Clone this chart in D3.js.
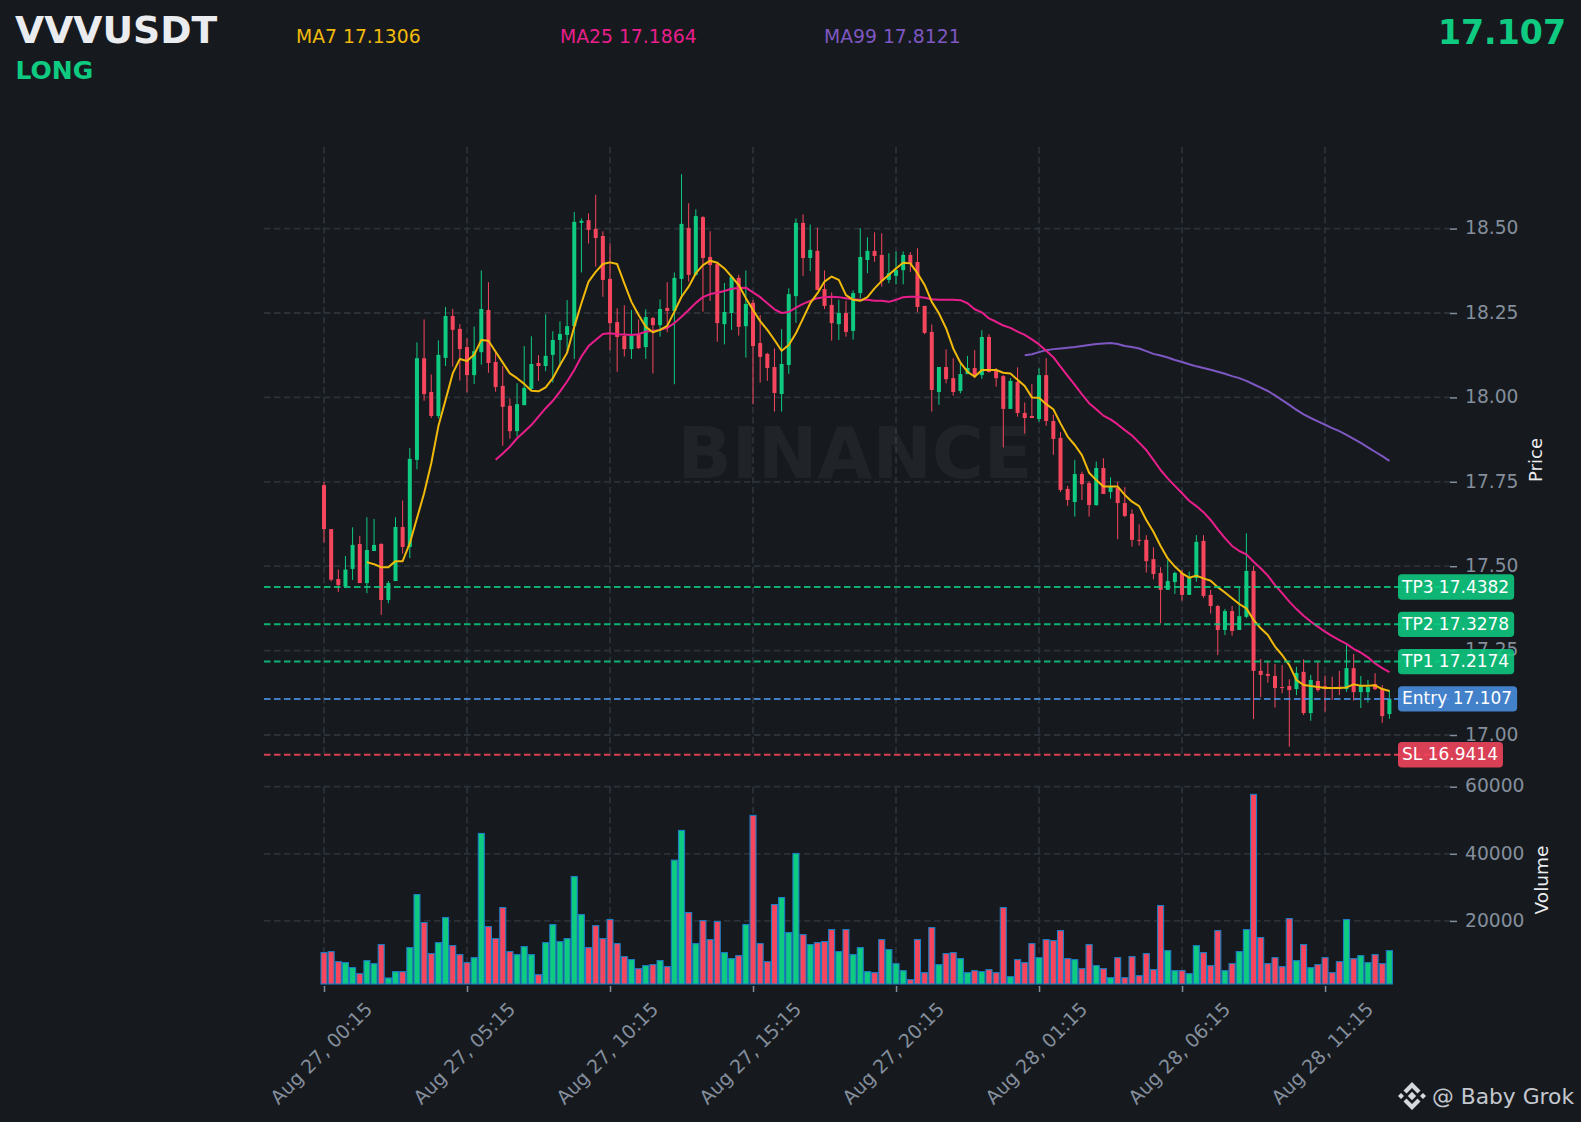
<!DOCTYPE html>
<html><head><meta charset="utf-8">
<script src="https://cdn.jsdelivr.net/npm/d3@7/dist/d3.min.js"></script>
<style>html,body{margin:0;padding:0;background:#161a1e}svg{display:block}text{font-family:"DejaVu Sans",sans-serif}</style>
</head><body><svg id="c" width="1581" height="1122"></svg>
<script>
const opens=[17.74,17.61,17.462,17.44,17.492,17.566,17.45,17.545,17.566,17.40,17.456,17.616,17.557,17.815,18.116,18.016,17.945,18.117,18.241,18.203,18.149,18.066,18.134,18.259,18.105,18.034,17.975,17.90,17.977,18.025,18.102,18.093,18.126,18.17,18.185,18.211,18.517,18.525,18.499,18.478,18.351,18.223,18.182,18.143,18.185,18.149,18.235,18.214,18.265,18.256,18.351,18.502,18.363,18.534,18.416,18.395,18.217,18.25,18.354,18.211,18.28,18.161,18.129,18.09,18.01,18.096,18.3,18.517,18.413,18.434,18.321,18.274,18.217,18.25,18.197,18.309,18.407,18.434,18.422,18.348,18.36,18.377,18.422,18.401,18.271,18.194,18.016,18.09,18.057,18.019,18.069,18.087,18.066,18.179,18.081,18.063,17.966,18.046,17.954,17.945,17.936,18.066,17.93,17.88,17.729,17.69,17.773,17.746,17.681,17.791,17.72,17.732,17.687,17.655,17.578,17.578,17.521,17.48,17.43,17.453,17.48,17.415,17.465,17.575,17.415,17.382,17.311,17.367,17.311,17.35,17.486,17.19,17.181,17.175,17.142,17.145,17.136,17.187,17.065,17.16,17.145,17.142,17.143,17.136,17.198,17.127,17.127,17.151,17.137,17.062];
const highs=[17.75,17.61,17.49,17.53,17.615,17.59,17.645,17.64,17.568,17.456,17.645,17.695,17.85,18.163,18.231,18.068,18.169,18.268,18.262,18.217,18.175,18.21,18.376,18.341,18.135,18.093,17.997,18.042,18.152,18.181,18.125,18.246,18.196,18.225,18.288,18.549,18.53,18.545,18.6,18.492,18.456,18.264,18.273,18.259,18.231,18.261,18.238,18.29,18.341,18.37,18.661,18.575,18.557,18.537,18.492,18.395,18.339,18.363,18.363,18.376,18.289,18.244,18.132,18.145,18.202,18.323,18.53,18.542,18.512,18.503,18.376,18.311,18.289,18.286,18.317,18.501,18.474,18.489,18.486,18.427,18.432,18.432,18.43,18.442,18.271,18.216,18.09,18.142,18.116,18.099,18.123,18.14,18.199,18.187,18.087,18.066,18.057,18.089,17.985,18.04,18.086,18.116,17.949,17.897,17.738,17.815,17.78,17.752,17.81,17.82,17.763,17.75,17.734,17.668,17.624,17.592,17.556,17.497,17.518,17.484,17.489,17.484,17.592,17.592,17.43,17.385,17.373,17.382,17.439,17.597,17.501,17.225,17.217,17.21,17.207,17.165,17.202,17.224,17.178,17.217,17.176,17.173,17.19,17.267,17.24,17.175,17.163,17.183,17.148,17.133];
const lows=[17.57,17.455,17.424,17.435,17.459,17.45,17.42,17.545,17.356,17.39,17.456,17.537,17.524,17.787,17.99,17.939,17.938,18.093,18.091,18.05,18.015,18.04,18.097,18.073,18.017,17.857,17.878,17.884,17.977,18.022,18.049,18.078,18.044,18.091,18.132,18.114,18.37,18.456,18.387,18.298,18.14,18.076,18.121,18.114,18.143,18.114,18.071,18.18,18.193,18.039,18.293,18.343,18.36,18.254,18.286,18.165,18.157,18.2,18.183,18.118,17.98,18.044,18.049,17.958,17.958,18.07,18.221,18.36,18.374,18.318,18.262,18.168,18.17,18.18,18.171,18.293,18.368,18.402,18.328,18.338,18.335,18.335,18.372,18.252,18.187,17.958,17.978,18.042,18.005,18.012,18.069,18.057,18.055,18.074,18.032,17.852,17.966,17.943,17.893,17.939,17.928,17.916,17.83,17.72,17.679,17.647,17.696,17.647,17.679,17.714,17.7,17.58,17.645,17.558,17.561,17.481,17.461,17.331,17.43,17.418,17.398,17.415,17.454,17.406,17.36,17.237,17.296,17.294,17.311,17.346,17.047,17.112,17.155,17.081,17.124,16.965,17.118,17.059,17.042,17.128,17.069,17.104,17.118,17.128,17.102,17.08,17.096,17.133,17.036,17.048];
const closes=[17.61,17.46,17.444,17.49,17.563,17.45,17.548,17.563,17.40,17.45,17.616,17.557,17.818,18.116,18.01,17.945,18.126,18.241,18.20,18.143,18.066,18.137,18.262,18.102,18.031,17.972,17.90,17.98,18.028,18.099,18.093,18.123,18.17,18.188,18.211,18.52,18.523,18.496,18.472,18.348,18.22,18.179,18.143,18.182,18.146,18.238,18.214,18.262,18.256,18.354,18.514,18.363,18.537,18.413,18.392,18.22,18.253,18.357,18.209,18.277,18.152,18.12,18.087,18.013,18.099,18.306,18.517,18.413,18.437,18.318,18.271,18.22,18.25,18.194,18.309,18.416,18.434,18.419,18.345,18.368,18.377,18.422,18.395,18.268,18.191,18.022,18.09,18.054,18.016,18.069,18.087,18.066,18.179,18.075,18.057,17.966,18.049,17.954,17.939,17.939,18.066,17.93,17.877,17.726,17.696,17.773,17.743,17.681,17.791,17.714,17.736,17.687,17.649,17.578,17.575,17.515,17.477,17.43,17.456,17.48,17.415,17.465,17.572,17.412,17.382,17.311,17.367,17.308,17.352,17.486,17.19,17.178,17.175,17.139,17.139,17.133,17.184,17.065,17.163,17.133,17.136,17.136,17.136,17.198,17.127,17.148,17.142,17.136,17.056,17.107];
const volumes=[10550,10850,7860,7560,6070,4280,8160,7260,12940,2990,4880,4880,12040,27860,19500,10250,13530,21000,12640,9950,7560,9050,46070,18300,14730,23980,10850,9950,12340,9950,3980,13530,18900,13830,14730,33230,21890,12040,18600,14730,20400,13230,9350,8460,5770,6670,6970,8160,6370,38110,46960,22490,13230,20100,14430,19800,10550,8760,9650,18900,51440,13230,7860,24880,26970,16520,40100,15920,12940,13530,13830,17410,10850,17410,9950,12040,4880,4580,14430,11440,7260,5170,2490,14430,4580,18010,6970,10250,10550,8760,4580,5170,4880,5470,4580,23980,3380,8460,7560,13230,9050,14430,14130,17110,8760,8460,5770,12940,6670,5770,3090,9050,3090,9350,3680,10250,5470,24580,11140,5170,5170,4280,12640,10550,6670,17110,5170,7260,10850,17410,57710,15030,7260,9050,6370,20700,8160,12940,6070,6970,9050,4580,7860,20400,8760,9650,7560,9950,7260,11140];
const ma7=[17.512,17.506,17.497,17.497,17.515,17.515,17.568,17.642,17.716,17.805,17.915,17.992,18.071,18.114,18.108,18.126,18.17,18.168,18.135,18.103,18.071,18.057,18.04,18.02,18.018,18.03,18.057,18.096,18.132,18.209,18.279,18.343,18.372,18.395,18.4,18.395,18.338,18.283,18.244,18.209,18.193,18.2,18.212,18.254,18.298,18.328,18.368,18.392,18.405,18.399,18.382,18.358,18.333,18.294,18.259,18.226,18.2,18.17,18.138,18.155,18.19,18.234,18.279,18.308,18.343,18.358,18.348,18.303,18.289,18.286,18.297,18.323,18.345,18.363,18.382,18.399,18.397,18.368,18.333,18.283,18.249,18.205,18.145,18.103,18.076,18.061,18.081,18.081,18.081,18.073,18.071,18.052,18.034,18.0,17.999,17.98,17.965,17.923,17.884,17.859,17.829,17.777,17.755,17.736,17.736,17.736,17.711,17.691,17.678,17.637,17.602,17.56,17.523,17.499,17.479,17.466,17.472,17.464,17.457,17.438,17.422,17.405,17.388,17.375,17.341,17.316,17.296,17.262,17.237,17.207,17.163,17.148,17.145,17.142,17.139,17.139,17.139,17.141,17.15,17.146,17.146,17.147,17.136,17.1306];
const ma25=[17.815,17.834,17.854,17.879,17.898,17.918,17.943,17.968,17.99,18.017,18.047,18.081,18.121,18.152,18.17,18.188,18.19,18.187,18.186,18.185,18.187,18.195,18.197,18.2,18.206,18.22,18.239,18.259,18.28,18.297,18.306,18.31,18.315,18.322,18.324,18.325,18.311,18.297,18.279,18.261,18.25,18.253,18.266,18.277,18.286,18.294,18.297,18.298,18.297,18.294,18.291,18.289,18.289,18.286,18.286,18.283,18.289,18.297,18.298,18.298,18.295,18.291,18.289,18.289,18.289,18.288,18.279,18.261,18.252,18.234,18.224,18.213,18.206,18.195,18.185,18.172,18.157,18.138,18.119,18.091,18.064,18.037,18.009,17.983,17.965,17.946,17.935,17.92,17.903,17.887,17.866,17.844,17.815,17.785,17.76,17.738,17.716,17.694,17.678,17.66,17.637,17.609,17.583,17.56,17.545,17.535,17.513,17.494,17.472,17.444,17.42,17.395,17.373,17.353,17.336,17.321,17.306,17.293,17.281,17.27,17.255,17.244,17.23,17.212,17.198,17.1864];
const ma99=[18.125,18.128,18.134,18.14,18.143,18.145,18.147,18.149,18.152,18.155,18.158,18.16,18.161,18.158,18.152,18.149,18.145,18.137,18.129,18.124,18.118,18.111,18.105,18.098,18.092,18.087,18.082,18.076,18.07,18.063,18.057,18.049,18.039,18.029,18.019,18.006,17.992,17.978,17.963,17.95,17.939,17.929,17.919,17.909,17.9,17.889,17.877,17.865,17.852,17.839,17.826,17.8121];
const priceTicks=[17.00,17.25,17.50,17.75,18.00,18.25,18.50];
const volumeTicks=[20000,40000,60000];
const timeTickIndex=[0,20,40,60,80,100,120,140];
const timeTickLabels=["Aug 27, 00:15","Aug 27, 05:15","Aug 27, 10:15","Aug 27, 15:15","Aug 27, 20:15","Aug 28, 01:15","Aug 28, 06:15","Aug 28, 11:15"];
const levelNames=["TP3 17.4382","TP2 17.3278","TP1 17.2174","Entry 17.107","SL 16.9414"];
const levelValues=[17.4382,17.3278,17.2174,17.107,16.9414];
const levelColors=["#0ecb81","#0ecb81","#0ecb81","#4a90e2","#f6465d"];
const maLegend=[["MA7 17.1306","#f0b90b"],["MA25 17.1864","#e91e8c"],["MA99 17.8121","#7e57c2"]];

const GREEN="#0ecb81",RED="#f6465d",GRID="#2b3139",TICK="#848e9c";
const svg=d3.select("#c");
svg.append("rect").attr("width",1581).attr("height",1122).attr("fill","#161a1e");
const x=d3.scaleLinear().domain([0,149]).range([324,1389.4]);
const y=d3.scaleLinear().domain([17,18.5]).range([735,228.6]);
const yv=d3.scaleLinear().domain([1195,60000]).range([984,786.7]);
const L=264,R=1450;
const dash="6.5,3.5";
// grid
const grid=svg.append("g").attr("stroke",GRID).attr("stroke-width",1.8).attr("stroke-dasharray",dash);
priceTicks.forEach(t=>grid.append("line").attr("x1",L).attr("x2",R).attr("y1",y(t)).attr("y2",y(t)));
volumeTicks.forEach(t=>grid.append("line").attr("x1",L).attr("x2",R).attr("y1",yv(t)).attr("y2",yv(t)));
timeTickIndex.forEach(i=>{
  grid.append("line").attr("x1",x(i)).attr("x2",x(i)).attr("y1",147).attr("y2",757);
  grid.append("line").attr("x1",x(i)).attr("x2",x(i)).attr("y1",787).attr("y2",984);
});
// watermark
svg.append("text").attr("x",855).attr("y",478).attr("text-anchor","middle").attr("font-size",71).attr("font-weight","bold").attr("fill","#ffffff").attr("fill-opacity",0.045).text("BINANCE");
// axes
function styleAxis(g){g.select(".domain").remove();g.selectAll("line").attr("stroke",TICK).attr("stroke-width",1.5);g.selectAll("text").attr("fill",TICK).attr("font-size",18.7).style("font-family",'"DejaVu Sans"');}
svg.append("g").attr("transform","translate(1450,0)").call(d3.axisRight(y).tickValues(priceTicks).tickSize(7).tickPadding(8).tickFormat(d3.format(".2f"))).call(styleAxis).selectAll("text").attr("dy","0.28em");
svg.append("g").attr("transform","translate(1450,0)").call(d3.axisRight(yv).tickValues(volumeTicks).tickSize(7).tickPadding(8).tickFormat(d3.format("d"))).call(styleAxis).selectAll("text").attr("dy","0.28em");
const xg=svg.append("g").attr("transform","translate(0,986)").call(d3.axisBottom(x).tickValues(timeTickIndex).tickSize(6).tickFormat((d,i)=>timeTickLabels[i])).call(styleAxis);
xg.selectAll("text").attr("text-anchor","middle").attr("x",0).attr("dy",0).attr("y",0).attr("font-size",19).attr("transform","translate(1.5,72) rotate(-45)");
// volume
svg.append("g").selectAll("rect").data(volumes).join("rect")
 .attr("x",(d,i)=>x(i)-3).attr("width",6).attr("y",d=>yv(d)).attr("height",d=>984-yv(d))
 .attr("fill",(d,i)=>closes[i]>=opens[i]?GREEN:RED).attr("stroke","#1a7fc4").attr("stroke-width",1.1);
// candles
const cg=svg.append("g");
opens.forEach((o,i)=>{
  const c=closes[i],col=c>=o?GREEN:RED;
  cg.append("line").attr("x1",x(i)).attr("x2",x(i)).attr("y1",y(highs[i])).attr("y2",y(lows[i])).attr("stroke",col).attr("stroke-width",1);
  const t=y(Math.max(o,c)),b=y(Math.min(o,c));
  cg.append("rect").attr("x",x(i)-2).attr("width",4).attr("y",t).attr("height",Math.max(b-t,1)).attr("fill",col);
});
// moving averages
function maLine(vals,start,col){
  const ln=d3.line().x((d,i)=>x(start+i)).y(d=>y(d)).curve(d3.curveLinear);
  svg.append("path").attr("d",ln(vals)).attr("fill","none").attr("stroke",col).attr("stroke-width",2).attr("stroke-linejoin","round");
}
maLine(ma99,98,"#7e57c2");
maLine(ma25,24,"#e91e8c");
maLine(ma7,6,"#f0b90b");
// levels
levelValues.forEach((v,k)=>{
  svg.append("line").attr("x1",264).attr("x2",1450).attr("y1",y(v)).attr("y2",y(v)).attr("stroke",levelColors[k]).attr("stroke-width",2).attr("stroke-dasharray",dash).attr("stroke-opacity",0.85);
});
levelValues.forEach((v,k)=>{
  const g=svg.append("g");
  const t=g.append("text").attr("x",1402).attr("y",y(v)+5.6).attr("font-size",17).attr("fill","#fff").text(levelNames[k]);
  const w=t.node().getComputedTextLength();
  g.insert("rect","text").attr("x",1398).attr("y",y(v)-12.7).attr("width",w+9).attr("height",25.4).attr("rx",4).attr("fill",levelColors[k]).attr("fill-opacity",0.88);
});
// header
svg.append("text").attr("x",15).attr("y",43).attr("font-size",37.7).attr("font-weight","bold").attr("fill","#eaecef").text("VVVUSDT");
svg.append("text").attr("x",15.5).attr("y",79).attr("font-size",25).attr("font-weight","bold").attr("fill",GREEN).text("LONG");
maLegend.forEach((m,k)=>svg.append("text").attr("x",296+264*k).attr("y",42.5).attr("font-size",18.8).attr("fill",m[1]).text(m[0]));
svg.append("text").attr("x",1566).attr("y",44).attr("text-anchor","end").attr("font-size",33.2).attr("font-weight","bold").attr("fill",GREEN).text("17.107");
// axis names
svg.append("text").attr("transform","translate(1542,460) rotate(-90)").attr("text-anchor","middle").attr("font-size",18).attr("fill","#eaecef").text("Price");
svg.append("text").attr("transform","translate(1548,880) rotate(-90)").attr("text-anchor","middle").attr("font-size",18.5).attr("fill","#eaecef").text("Volume");
// brand
const lg=svg.append("g").attr("transform","translate(1412,1096)").attr("fill","#d5d8dc");
lg.append("path").attr("d","M0,-4.2L4.2,0L0,4.2L-4.2,0Z");
lg.append("path").attr("d","M-14,0L-11,-3L-8,0L-11,3Z");
lg.append("path").attr("d","M14,0L11,-3L8,0L11,3Z");
lg.append("path").attr("d","M0,-14L8.5,-5.5L5.5,-2.5L0,-8L-5.5,-2.5L-8.5,-5.5Z");
lg.append("path").attr("d","M0,14L8.5,5.5L5.5,2.5L0,8L-5.5,2.5L-8.5,5.5Z");
svg.append("text").attr("x",1432).attr("y",1104).attr("font-size",21.8).attr("fill","#c4c8ce").text("@ Baby Grok");
</script></body></html>
